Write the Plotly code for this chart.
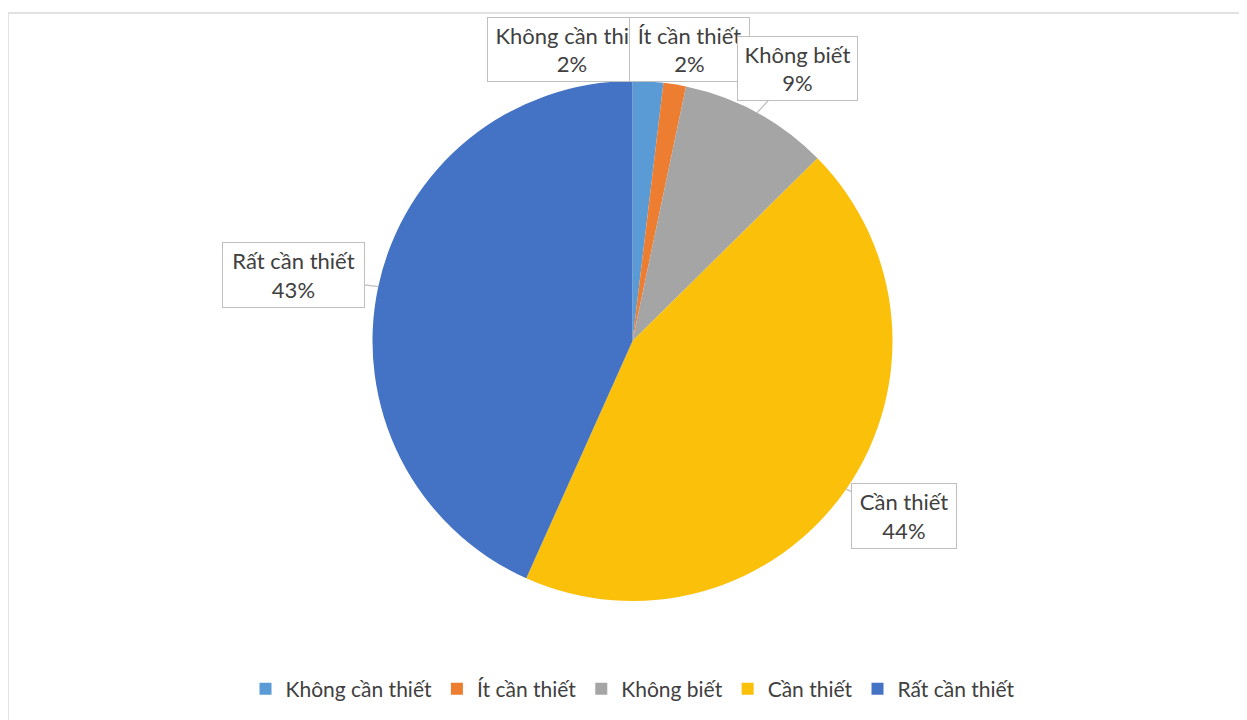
import math
import plotly.graph_objects as go

# survey answers, share of respondents (%)
labels = ["Không cần thiết", "Ít cần thiết", "Không biết", "Cần thiết", "Rất cần thiết"]
values = [1.9, 1.4, 9.3, 44.1, 43.3]
pct_text = ["2%", "2%", "9%", "44%", "43%"]
colors = ["#5B9BD5", "#ED7D31", "#A5A5A5", "#FAC00A", "#4472C4"]

W, H = 1247, 720
OFF = 8  # page body margin
cx, cy, r = 632.5 - OFF, 341 - OFF, 260  # pie centre / radius in px

fig = go.Figure()
fig.add_trace(go.Pie(
    labels=labels,
    values=values,
    marker=dict(colors=colors, line=dict(width=0)),
    sort=False,
    direction="clockwise",
    rotation=0,
    textinfo="none",
    hoverinfo="label+percent",
    domain=dict(x=[(cx - r) / W, (cx + r) / W], y=[1 - (cy + r) / H, 1 - (cy - r) / H]),
))

# callout boxes: centre px (screen), inner width/height, pointer?
boxes = [
    (572, 49.5, 160, 55, False),
    (689.5, 49.5, 111, 55, False),
    (797.5, 68.5, 111, 55, True),
    (904, 516, 96, 56, True),
    (293.5, 275, 133, 56, True),
]

font = dict(family="Lato, Open Sans, sans-serif", size=22, color="#404040")
total = sum(values)
cum = 0
annotations = []
for lab, v, pt, (bx, by, bw, bh, arrow) in zip(labels, values, pct_text, boxes):
    bx, by = bx - OFF, by - OFF
    mid = (cum + v / 2) / total * 2 * math.pi
    cum += v
    tx = cx + r * math.sin(mid)
    ty = cy - r * math.cos(mid)
    a = dict(
        text=f"{lab}<br>{pt}", font=font,
        bgcolor="white", bordercolor="#BFBFBF", borderwidth=1, borderpad=4,
        width=bw, height=bh, align="center", xref="paper", yref="paper",
    )
    if arrow:
        a.update(x=tx / W, y=1 - ty / H, showarrow=True, ax=bx - tx, ay=by - ty,
                 arrowhead=0, arrowwidth=1.2, arrowcolor="#BFBFBF", standoff=0)
    else:
        a.update(x=bx / W, y=1 - by / H, showarrow=False, xanchor="center", yanchor="middle")
    annotations.append(a)

fig.update_layout(
    width=W, height=H,
    margin=dict(l=0, r=0, t=0, b=0),
    paper_bgcolor="white",
    annotations=annotations,
    showlegend=True,
    legend=dict(
        orientation="h", x=(633 - OFF) / W, xanchor="center", y=1 - (689 - OFF) / H, yanchor="middle",
        font=dict(family="Lato, Open Sans, sans-serif", size=21, color="#404040"),
        itemwidth=30, traceorder="normal",
    ),
    shapes=[dict(type="rect", xref="paper", yref="paper",
                 x0=(7 - OFF) / W + 0.0008, x1=1.05, y0=-0.05, y1=1 - (13 - OFF) / H,
                 line=dict(color="#D9D9D9", width=1.5), layer="below")],
)

fig.write_html("out.html")
